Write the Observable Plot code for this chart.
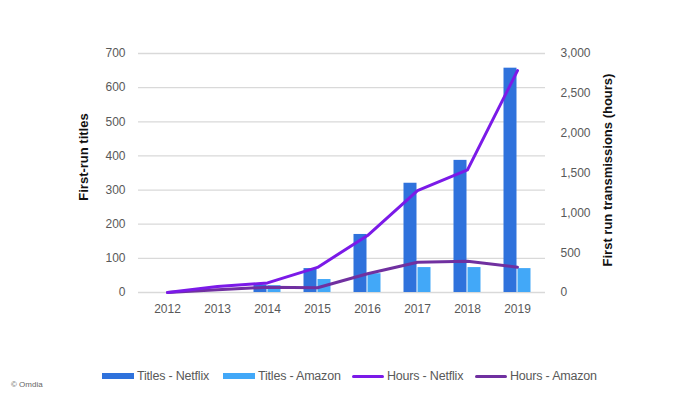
<!DOCTYPE html>
<html><head><meta charset="utf-8">
<script src="https://cdn.jsdelivr.net/npm/d3@7"></script>
<script src="https://cdn.jsdelivr.net/npm/@observablehq/plot@0.6"></script>
<style>
body{margin:0;background:#fff;font-family:"Liberation Sans",Arial,sans-serif;}
#wrap{position:relative;width:696px;height:400px;overflow:hidden;}
#chart svg{display:block;}
#legend{position:absolute;left:102px;top:369px;display:flex;align-items:center;font-size:12.5px;color:#595959;white-space:nowrap;letter-spacing:-0.2px;}
#legend .item{display:flex;align-items:center;}
#legend .sw{display:inline-block;width:32px;margin-right:3px;flex:none;}
#credit{position:absolute;left:11px;top:380px;font-size:8px;color:#666;}
</style></head><body>
<div id="wrap"><div id="chart"></div><div id="legend"></div><div id="credit">© Omdia</div></div>
<script>
const years = ["2012","2013","2014","2015","2016","2017","2018","2019"];
const titlesNetflix = [0,0,22,70,170,320,387,657];
const titlesAmazon = [0,0,20,38,55,73,73,70];
const hoursNetflix = [0,75,120,315,715,1280,1540,2785];
const hoursAmazon = [0,35,65,60,235,380,393,318];
const leftTicks = [0,100,200,300,400,500,600,700];
const rightTicks = [0,500,1000,1500,2000,2500,3000];
const seriesNames = ["Titles - Netflix","Titles - Amazon","Hours - Netflix","Hours - Amazon"];
const colors = ["#2f72dc","#42a8f8","#7b1ae8","#7030a0"];
const leftTitle = "First-run titles";
const rightTitle = "First run transmissions (hours)";

const k = 700/3000;
const rows = (vals) => years.map((y,i)=>({year:y, v:vals[i]}));
const font = "'Liberation Sans', Arial, sans-serif";

const chart = Plot.plot({
  width: 696, height: 350,
  marginLeft: 138, marginRight: 151, marginTop: 53, marginBottom: 58,
  x: {type: "band", domain: years, padding: 0, label: null},
  y: {domain: [0, 700], label: null},
  style: {fontFamily: font, fontSize: "12px", color: "#595959", background: "transparent", overflow: "visible"},
  marks: [
    Plot.gridY(leftTicks, {stroke: "#d9d9d9", strokeOpacity: 1, strokeWidth: 1.3}),
    Plot.barY(rows(titlesNetflix), {x: "year", y: "v", fill: colors[0], insetLeft: 11.5, insetRight: 25.5}),
    Plot.barY(rows(titlesAmazon), {x: "year", y: "v", fill: colors[1], insetLeft: 25.5, insetRight: 11.5}),
    Plot.line(rows(hoursAmazon), {x: "year", y: d => d.v * k, stroke: colors[3], strokeWidth: 3}),
    Plot.line(rows(hoursNetflix), {x: "year", y: d => d.v * k, stroke: colors[2], strokeWidth: 3}),
    Plot.axisY(leftTicks, {anchor: "left", tickSize: 0, tickPadding: 13, label: null, fill: "#595959"}),
    Plot.axisY(rightTicks.map(t => t * k), {anchor: "right", tickSize: 0, tickPadding: 15, label: null, fill: "#595959",
      tickFormat: d => d3.format(",")(Math.round(d / k))}),
    Plot.axisX({tickSize: 0, tickPadding: 12, label: null, fill: "#595959"}),
    Plot.text([leftTitle], {frameAnchor: "left", textAnchor: "middle", dx: -55, dy: -16, rotate: -90, text: d => d,
      fontWeight: "bold", fontSize: 13, fill: "#111"}),
    Plot.text([rightTitle], {frameAnchor: "right", textAnchor: "middle", dx: 62, dy: -3, rotate: -90, text: d => d,
      fontWeight: "bold", fontSize: 13, fill: "#111"})
  ]
});
document.getElementById("chart").appendChild(chart);

const itemWidths = ["121px","129px","123px","auto"];
const legend = document.getElementById("legend");
seriesNames.forEach((name, i) => {
  const item = document.createElement("div");
  item.className = "item";
  item.style.width = itemWidths[i];
  const sw = document.createElement("span");
  sw.className = "sw";
  sw.style.background = colors[i];
  sw.style.height = i < 2 ? "6px" : "3px";
  if (i >= 2) sw.style.borderRadius = "2px";
  item.appendChild(sw);
  const t = document.createElement("span");
  t.textContent = name;
  item.appendChild(t);
  legend.appendChild(item);
});
</script>
</body></html>
